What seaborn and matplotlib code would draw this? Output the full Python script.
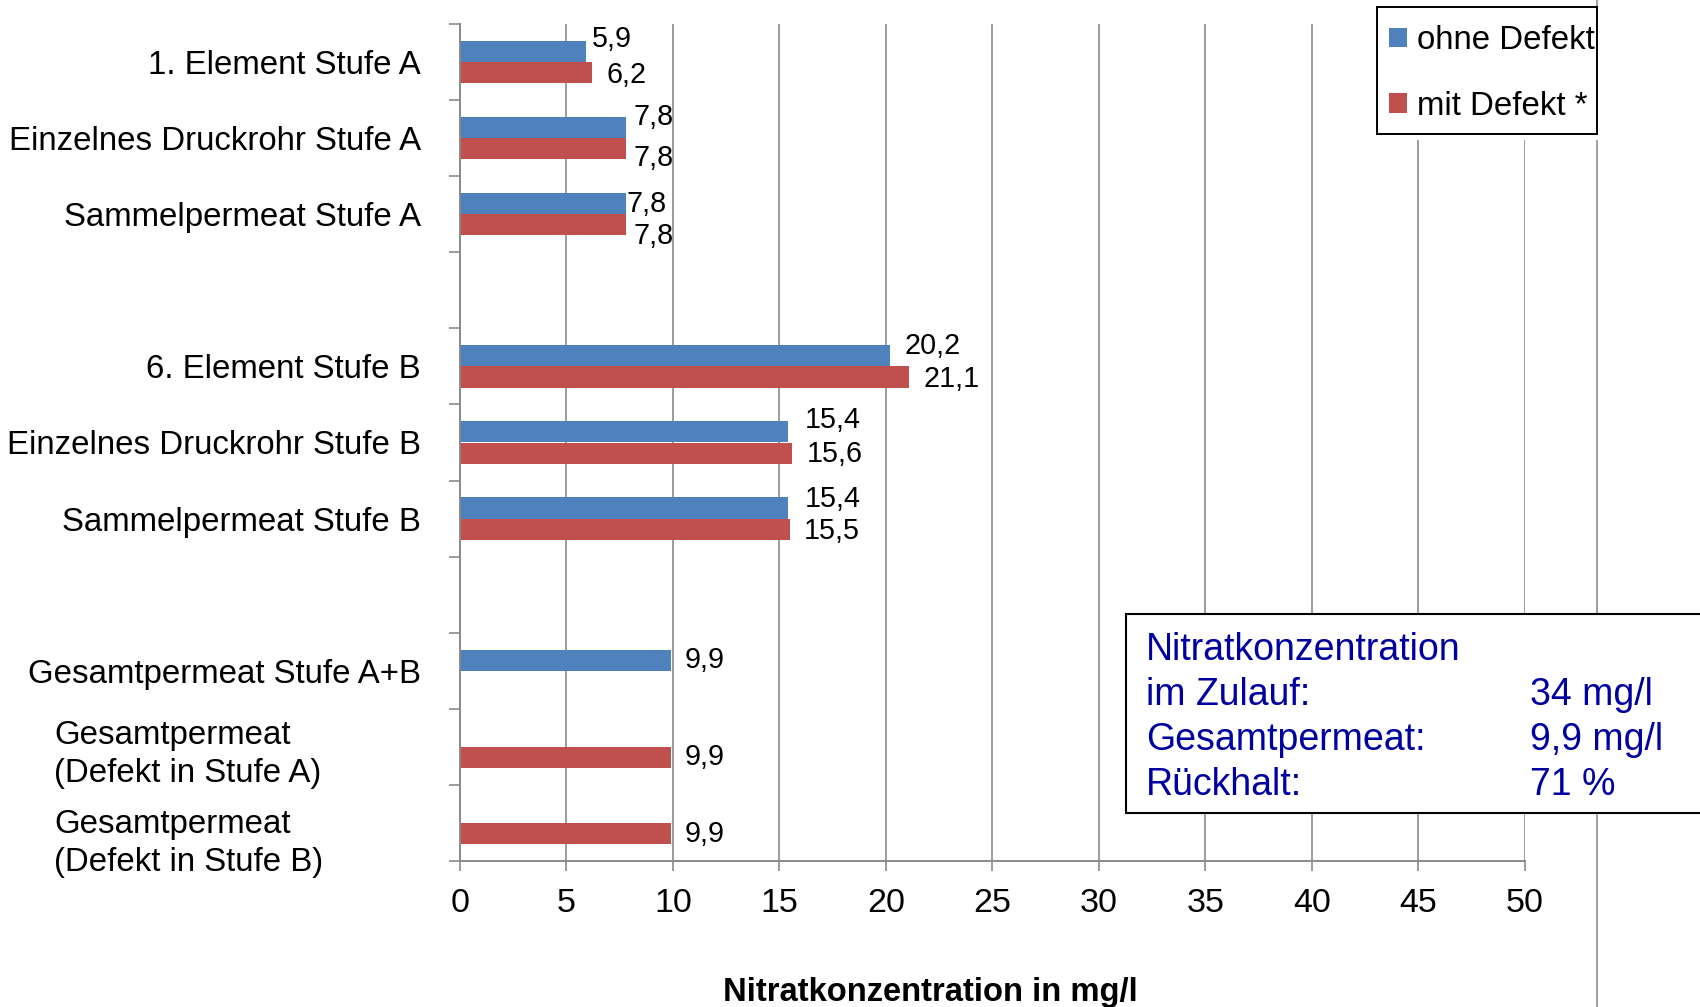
import numpy as np
import pandas as pd
import seaborn as sns
import matplotlib.pyplot as plt
import matplotlib.transforms as mtransforms
from matplotlib.patches import Rectangle
from matplotlib.lines import Line2D

# ---- data -------------------------------------------------------------
categories = [
    "1. Element Stufe A",
    "Einzelnes Druckrohr Stufe A",
    "Sammelpermeat Stufe A",
    "",
    "6. Element Stufe B",
    "Einzelnes Druckrohr Stufe B",
    "Sammelpermeat Stufe B",
    " ",
    "Gesamtpermeat Stufe A+B",
    "Gesamtpermeat\n(Defekt in Stufe A)",
    "Gesamtpermeat\n(Defekt in Stufe B)",
]
series = ["ohne Defekt", "mit Defekt *"]
ohne_defekt = [5.9, 7.8, 7.8, np.nan, 20.2, 15.4, 15.4, np.nan, 9.9, np.nan, np.nan]
mit_defekt = [6.2, 7.8, 7.8, np.nan, 21.1, 15.6, 15.5, np.nan, np.nan, 9.9, 9.9]
x_ticks = [0, 5, 10, 15, 20, 25, 30, 35, 40, 45, 50]
x_label = "Nitratkonzentration in mg/l"
box_labels = ["Nitratkonzentration", "im Zulauf:", "Gesamtpermeat:", "Rückhalt:"]
box_values = ["", "34 mg/l", "9,9 mg/l", "71 %"]

# ---- styling -----------------------------------------------------------
W, H = 1700, 1007
colors = ["#4F81BD", "#C0504D"]
axis_grey = "#8a8a8a"
text_blue = "#0000A0"
fs_cat = 23.8
fs_tick = 24.5
fs_val = 20.7
fs_box = 27

# label nudges (px: right, down) per series and category slot
label_nudge = {
    0: {0: (6, -12.5), 1: (7, -10.6), 2: (0.5, 0), 4: (14, -9.4), 5: (16.5, -12),
        6: (16.5, -9), 8: (14, 0)},
    1: {0: (14, 2), 1: (7, 9.5), 2: (7, 11.4), 4: (14, 2), 5: (14, 0.7),
        6: (14, 1.4), 9: (14, 0), 10: (14, 0)},
}

sns.set_theme(style="white")
plt.rcParams["font.family"] = ["Liberation Sans", "DejaVu Sans"]
plt.rcParams["text.color"] = "black"

df = pd.DataFrame({
    "Kategorie": categories * 2,
    "Serie": [series[0]] * len(categories) + [series[1]] * len(categories),
    "Wert": ohne_defekt + mit_defekt,
}).dropna()

fig = plt.figure(figsize=(W / 100, H / 100), dpi=100)
ax = fig.add_axes([460 / W, 1 - 861 / H, (1525 - 460) / W, (861 - 24) / H])

sns.barplot(data=df, y="Kategorie", x="Wert", hue="Serie", order=categories,
            hue_order=series, palette=colors, orient="h", width=0.555,
            saturation=1, errorbar=None, linewidth=0, ax=ax)

ax.set_xlim(0, 50)
ax.set_ylim(len(categories) - 0.5, -0.5)
ax.set_xlabel("")
ax.set_ylabel("")

# vertical grid and axes lines
ax.set_axisbelow(True)
ax.grid(axis="x", color=axis_grey, linewidth=1.2)
ax.grid(axis="y", visible=False)
for side in ["top", "right"]:
    ax.spines[side].set_visible(False)
for side in ["left", "bottom"]:
    ax.spines[side].set_color(axis_grey)
    ax.spines[side].set_linewidth(1.4)

ax.set_xticks(x_ticks)
ax.set_xticklabels([str(t) for t in x_ticks])
ax.tick_params(axis="x", direction="out", length=7.5, width=1.2, color=axis_grey,
               labelsize=fs_tick, pad=12, labelcolor="black", bottom=True)

# category labels at slot centres, tick marks at slot boundaries
single = [c if "\n" not in c else "" for c in categories]
ax.set_yticks(range(len(categories)))
ax.set_yticklabels(single)
ax.tick_params(axis="y", which="major", length=0, pad=28, labelsize=fs_cat,
               labelcolor="black", left=False)
ax.set_yticks(np.arange(-0.5, len(categories)), minor=True)
ax.tick_params(axis="y", which="minor", direction="out", length=8, width=1.2,
               color=axis_grey, left=True)

trans = mtransforms.blended_transform_factory(fig.transFigure, ax.transData)
multi_shift = {9: 0.10, 10: 0.27}
for i, c in enumerate(categories):
    if "\n" in c:
        ax.text(54 / W, i + multi_shift.get(i, 0), c, transform=trans, ha="left",
                va="center", fontsize=fs_cat, linespacing=1.27, color="black")

# value labels taken from the drawn bars
for s_idx, cont in enumerate(ax.containers):
    for bar in cont:
        w = bar.get_width()
        if not np.isfinite(w) or w == 0:
            continue
        yc = bar.get_y() + bar.get_height() / 2
        slot = int(round(yc))
        dx, dy = label_nudge[s_idx].get(slot, (14, 0))
        ax.annotate(f"{w:.1f}".replace(".", ","), xy=(w, yc),
                    xytext=(dx * 0.72, -dy * 0.72), textcoords="offset points",
                    ha="left", va="center", fontsize=fs_val, color="black")

# legend: white background from the legend, black border drawn on top so the
# text can run close to the right edge
sns.move_legend(ax, "upper right", bbox_to_anchor=(1613 / W, 1 - 7 / H),
                bbox_transform=fig.transFigure, title=None, frameon=True,
                fancybox=False, fontsize=fs_cat, handlelength=0.55,
                handleheight=0.55, handletextpad=0.3, labelspacing=1.05,
                borderpad=0.55, borderaxespad=0)
leg = ax.get_legend()
for t in leg.get_texts():
    t.set_color("black")
leg.get_frame().set_edgecolor("none")
leg.get_frame().set_facecolor("white")
leg.get_frame().set_alpha(1)
fig.add_artist(Rectangle((1377 / W, 1 - 134 / H), (1597 - 1377) / W, (134 - 7.5) / H,
                         transform=fig.transFigure, facecolor="none",
                         edgecolor="black", linewidth=1.4, zorder=5))

# x axis title
fig.text(930 / W, 1 - 992 / H, x_label, ha="center", va="center",
         fontsize=23.6, fontweight="bold", color="black")

# outer plot-area border line on the right
fig.add_artist(Line2D([1597 / W, 1597 / W], [0, 1], transform=fig.transFigure,
                      color="#a0a0a0", linewidth=1.4, zorder=-1))

# info box
fig.add_artist(Rectangle((1126 / W, 1 - 813 / H), (1720 - 1126) / W, (813 - 614) / H,
                         transform=fig.transFigure, facecolor="white",
                         edgecolor="black", linewidth=1.5, zorder=3))
for k, (lab, val) in enumerate(zip(box_labels, box_values)):
    yk = 1 - (650 + 45 * k) / H
    fig.text(1146 / W, yk, lab, ha="left", va="center", fontsize=fs_box,
             color=text_blue, zorder=4)
    if val:
        fig.text(1530 / W, yk, val, ha="left", va="center", fontsize=fs_box,
                 color=text_blue, zorder=4)

fig.savefig("out.png", dpi=100)
